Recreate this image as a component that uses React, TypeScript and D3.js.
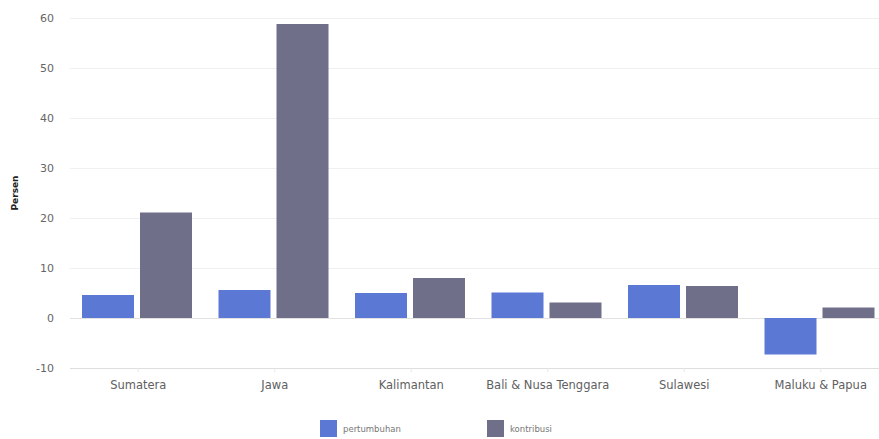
import { useEffect, useRef } from 'react';
import * as d3 from 'd3';

const categories = ['Sumatera', 'Jawa', 'Kalimantan', 'Bali & Nusa Tenggara', 'Sulawesi', 'Maluku & Papua'];
const seriesNames = ['pertumbuhan', 'kontribusi'];
const pertumbuhan = [4.6, 5.6, 5.0, 5.1, 6.6, -7.3];
const kontribusi = [21.1, 58.8, 8.0, 3.1, 6.4, 2.1];
const yTicks = [-10, 0, 10, 20, 30, 40, 50, 60];

const colors = ['#5b79d4', '#706f89'];

export default function App() {
  const ref = useRef<SVGSVGElement | null>(null);

  useEffect(() => {
    if (!ref.current) return;
    const svg = d3.select(ref.current);
    svg.selectAll('*').remove();

    const width = 879;
    const font = '"DejaVu Sans", Verdana, sans-serif';

    const x0 = d3.scaleBand<string>().domain(categories).range([70, 889]);
    const x1 = d3
      .scaleBand<string>()
      .domain(seriesNames)
      .range([12, 122])
      .paddingInner(6 / 58);
    const y = d3.scaleLinear().domain([-10, 60]).range([368, 18]);

    // grid lines
    svg
      .append('g')
      .selectAll('line')
      .data(yTicks)
      .enter()
      .append('line')
      .attr('x1', 70)
      .attr('x2', width)
      .attr('y1', (d) => y(d) + 0.5)
      .attr('y2', (d) => y(d) + 0.5)
      .attr('stroke', (d) => (d === -10 ? '#dedede' : d === 0 ? '#e2e2e2' : '#f0f0f0'))
      .attr('stroke-width', 1);

    // y axis labels
    svg
      .append('g')
      .selectAll('text')
      .data(yTicks)
      .enter()
      .append('text')
      .attr('x', 54)
      .attr('y', (d) => y(d) + 4)
      .attr('text-anchor', 'end')
      .style('font-family', font)
      .style('font-size', '11px')
      .style('fill', '#666')
      .text((d) => d);

    svg
      .append('text')
      .attr('transform', `translate(18, ${y(25)}) rotate(-90)`)
      .attr('text-anchor', 'middle')
      .style('font-family', font)
      .style('font-size', '9px')
      .style('font-weight', 'bold')
      .style('fill', '#222')
      .text('Persen');

    // bars
    const rows = categories.map((c, i) => ({ c, vals: [pertumbuhan[i], kontribusi[i]] }));
    const groups = svg
      .append('g')
      .selectAll('g')
      .data(rows)
      .enter()
      .append('g')
      .attr('transform', (d) => `translate(${x0(d.c)}, 0)`);

    groups
      .selectAll('rect')
      .data((d) => d.vals.map((v, j) => ({ name: seriesNames[j], v, j })))
      .enter()
      .append('rect')
      .attr('x', (d) => x1(d.name) as number)
      .attr('width', x1.bandwidth())
      .attr('y', (d) => y(Math.max(0, d.v)))
      .attr('height', (d) => Math.abs(y(d.v) - y(0)))
      .attr('fill', (d) => colors[d.j]);

    // x tick marks
    svg
      .append('g')
      .selectAll('line')
      .data(categories)
      .enter()
      .append('line')
      .attr('x1', (d) => (x0(d) as number) + x0.bandwidth() / 2)
      .attr('x2', (d) => (x0(d) as number) + x0.bandwidth() / 2)
      .attr('y1', y(-10))
      .attr('y2', y(-10) + 4)
      .attr('stroke', '#e6e6e6');

    // x labels
    svg
      .append('g')
      .selectAll('text')
      .data(categories)
      .enter()
      .append('text')
      .attr('x', (d) => (x0(d) as number) + x0.bandwidth() / 2)
      .attr('y', 389)
      .attr('text-anchor', 'middle')
      .style('font-family', font)
      .style('font-size', '11.5px')
      .style('fill', '#606060')
      .text((d) => d);

    // legend
    const legendX = [320, 487];
    const legend = svg
      .append('g')
      .selectAll('g')
      .data(seriesNames)
      .enter()
      .append('g')
      .attr('transform', (_d, i) => `translate(${legendX[i]}, 420)`);

    legend
      .append('rect')
      .attr('width', 17)
      .attr('height', 17)
      .attr('fill', (_d, i) => colors[i]);

    legend
      .append('text')
      .attr('x', 23)
      .attr('y', 12)
      .style('font-family', font)
      .style('font-size', '8.5px')
      .style('fill', '#777')
      .text((d) => d);
  }, []);

  return (
    <svg
      ref={ref}
      width={879}
      height={439}
      style={{ position: 'absolute', left: 0, top: 0, background: '#fff' }}
    />
  );
}
